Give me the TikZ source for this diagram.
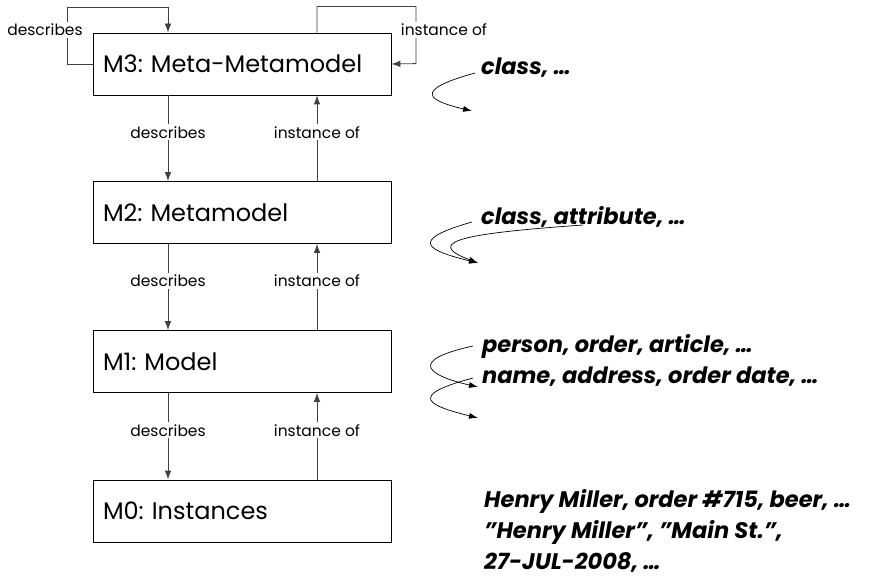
\documentclass[tikz,border=0pt]{standalone}
\usepackage{fontspec}
\setmainfont{Poppins}
\usetikzlibrary{arrows.meta}
\frenchspacing

\tikzset{
  box/.style={draw=black, line width=0.8pt, minimum width=298pt, minimum height=62pt,
    text width=278pt, align=left, inner xsep=10pt, font=\fontsize{24}{28}\selectfont},
  lbl/.style={fill=white, inner sep=2pt, font=\fontsize{15.5}{18}\selectfont},
  rtext/.style={anchor=west, align=left, inner sep=0pt,
    font=\fontsize{22.5}{31}\selectfont\bfseries\itshape},
  arr/.style={draw=black!75, line width=0.8pt, -{Latex[length=9pt,width=6.5pt]}},
  wiggle/.style={draw=black, line width=0.7pt, -{Latex[length=9pt,width=6pt]}}
}
\newcommand{\dq}{\symbol{34}}

\begin{document}
\begin{tikzpicture}[x=1pt, y=1pt]
  \useasboundingbox (0,0) rectangle (890,581);

  % the four levels
  \node[box] (m3) at (242,517)   {M3: Meta-Metamodel};
  \node[box] (m2) at (242,368.5) {M2: Metamodel};
  \node[box] (m1) at (242,219.5) {M1: Model};
  \node[box] (m0) at (242,70)    {M0: Instances};

  % self loops on M3
  \draw[arr] (m3.west) -- ++(-25,0) -- ++(0,57) -| ([xshift=-74pt]m3.north);
  \draw[arr] ([xshift=75pt]m3.north) -- ++(0,26) -- ++(99,0) -- ++(0,-57) -- (m3.east);
  \node[lbl] (d3) at (45,551) {describes};
  \node[lbl] (i3) at (444,551) {instance of};

  % between the levels
  \draw[arr] ([xshift=-74pt]m3.south) -- node[lbl,pos=.43]{describes} ([xshift=-74pt]m2.north);
  \draw[arr] ([xshift=75pt]m2.north) -- node[lbl,pos=.57]{instance of} ([xshift=75pt]m3.south);
  \draw[arr] ([xshift=-74pt]m2.south) -- node[lbl,pos=.43]{describes} ([xshift=-74pt]m1.north);
  \draw[arr] ([xshift=75pt]m1.north) -- node[lbl,pos=.57]{instance of} ([xshift=75pt]m2.south);
  \draw[arr] ([xshift=-74pt]m1.south) -- node[lbl,pos=.43]{describes} ([xshift=-74pt]m0.north);
  \draw[arr] ([xshift=75pt]m0.north) -- node[lbl,pos=.57]{instance of} ([xshift=75pt]m1.south);

  % examples
  \node[rtext] (cls)  at (481,513) {class, \dots};
  \node[rtext] (attr) at (481,364) {class, attribute, \dots};
  \node[rtext] (pers) at (482,235) {person, order, article, \dots};
  \node[rtext] (name) at (482,204) {name, address, order date, \dots};
  \node[rtext] (inst) at (484,50)  {Henry Miller, order \#715, beer, \dots\\
    \dq Henry Miller\dq, \dq Main St.\dq,\\ 27-JUL-2008, \dots};

  \coordinate (e3) at (472,470);
  \coordinate (e2) at (478,318);
  \coordinate (a2) at (583,356);
  \coordinate (e1) at (478,194);
  \coordinate (e0) at (478,163);

  \draw[wiggle] ([xshift=-6pt,yshift=-5pt]cls.west) .. controls (410,490) and (430,480) .. (e3);
  \draw[wiggle] ([xshift=-9pt,yshift=-5pt]attr.west) .. controls (405,340) and (430,330) .. (e2);
  \draw[wiggle] (a2) .. controls (470,348) and (420,340) .. (e2);
  \draw[wiggle] ([xshift=-9pt]pers.west) .. controls (405,220) and (430,205) .. (e1);
  \draw[wiggle] ([xshift=-9pt,yshift=-1pt]name.west) .. controls (405,185) and (430,175) .. (e0);
\end{tikzpicture}
\end{document}
